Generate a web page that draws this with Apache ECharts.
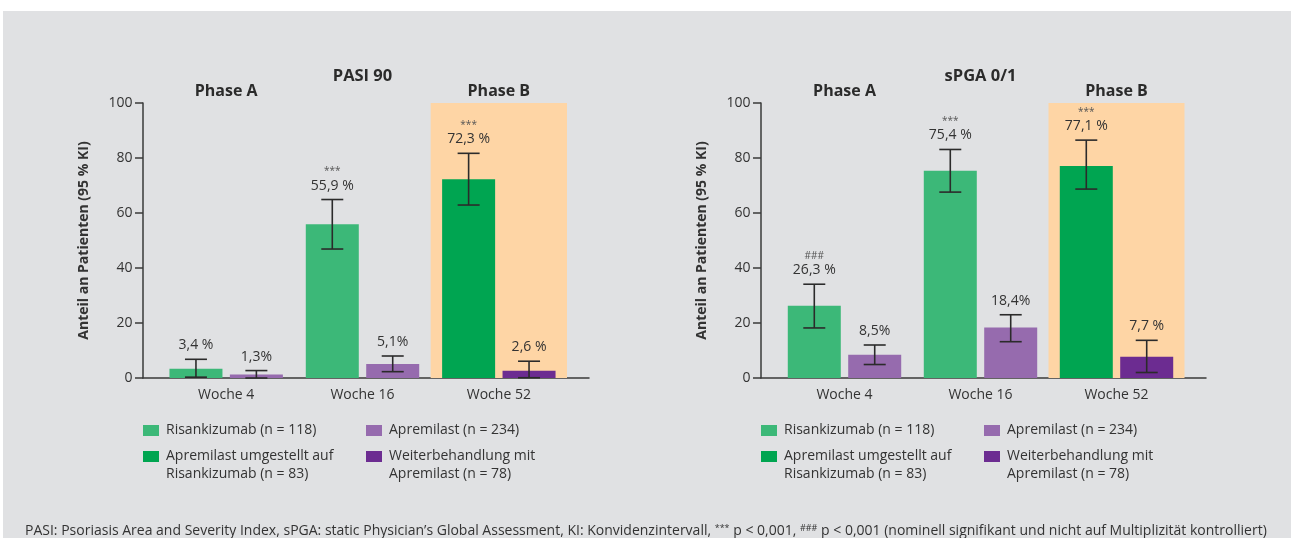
<!DOCTYPE html>
<html>
<head>
<meta charset="utf-8">
<script src="https://cdn.jsdelivr.net/npm/echarts@6.0.0/dist/echarts.min.js"></script>
<style>
  html, body { margin: 0; padding: 0; background: #ffffff; }
  #chart { width: 1291px; height: 538px; }
</style>
</head>
<body>
<div id="chart"></div>
<script>
// ---- Data ---------------------------------------------------------------
const weeks = ['Woche 4', 'Woche 16', 'Woche 52'];
const phaseLabels = ['Phase A', '', 'Phase B'];
const phaseBWeek = 2;                       // index of the Phase B period
const yAxisName = 'Anteil an Patienten (95 % KI)';
const panelTitles = ['PASI 90', 'sPGA 0/1'];

const legendNames = [
  'Risankizumab (n = 118)',
  'Apremilast (n = 234)',
  'Apremilast umgestellt auf\nRisankizumab (n = 83)',
  'Weiterbehandlung mit\nApremilast (n = 78)'
];

// PASI 90 response (%), with 95 % confidence limits [lower, upper]
const pasiRisankizumab = [3.4, 55.9, null];
const pasiApremilast = [1.3, 5.1, null];
const pasiSwitched = [null, null, 72.3];
const pasiContinued = [null, null, 2.6];
const pasiRisankizumabCI = [[0.3, 6.8], [46.9, 64.9], null];
const pasiApremilastCI = [[0.0, 2.7], [2.3, 8.0], null];
const pasiSwitchedCI = [null, null, [62.9, 81.7]];
const pasiContinuedCI = [null, null, [0.1, 6.1]];
const pasiRisankizumabSig = ['', '***', ''];
const pasiSwitchedSig = ['', '', '***'];

// sPGA 0/1 response (%), with 95 % confidence limits [lower, upper]
const spgaRisankizumab = [26.3, 75.4, null];
const spgaApremilast = [8.5, 18.4, null];
const spgaSwitched = [null, null, 77.1];
const spgaContinued = [null, null, 7.7];
const spgaRisankizumabCI = [[18.2, 34.1], [67.6, 83.1], null];
const spgaApremilastCI = [[4.9, 12.0], [13.2, 23.0], null];
const spgaSwitchedCI = [null, null, [68.7, 86.5]];
const spgaContinuedCI = [null, null, [2.0, 13.7]];
const spgaRisankizumabSig = ['###', '***', ''];
const spgaSwitchedSig = ['', '', '***'];

const footnote = 'PASI: Psoriasis Area and Severity Index, sPGA: static Physician\u2019s Global Assessment, KI: Konvidenzintervall, ';

// ---- Styling ------------------------------------------------------------
const FONT = "'Open Sans', 'Noto Sans', sans-serif";
const TEXT = '#333333';
const AXIS = '#3a3a3a';
const PANEL_BG = '#e0e1e3';
const BAND = '#fed5a5';
const COLORS = ['#3cb878', '#966bae', '#00a551', '#6c2c91'];
const BAR_W = 53;
const BAR_GAP = 0.14;
const SLOT_OFFSET = BAR_W * (1 + BAR_GAP) / 2;
const CAP = 11;
const TOP = 103, PLOT_H = 275;
const LEGEND_LH = 17.7;
const ICON_W = 16, ICON_H = 11;

const panels = [
  {
    title: panelTitles[0], frameLeft: 143, frameWidth: 446, barLeft: 158, barWidth: 409,
    values: [pasiRisankizumab, pasiApremilast, pasiSwitched, pasiContinued],
    cis: [pasiRisankizumabCI, pasiApremilastCI, pasiSwitchedCI, pasiContinuedCI],
    sigs: [pasiRisankizumabSig, null, pasiSwitchedSig, null]
  },
  {
    title: panelTitles[1], frameLeft: 761, frameWidth: 445, barLeft: 776.5, barWidth: 408,
    values: [spgaRisankizumab, spgaApremilast, spgaSwitched, spgaContinued],
    cis: [spgaRisankizumabCI, spgaApremilastCI, spgaSwitchedCI, spgaContinuedCI],
    sigs: [spgaRisankizumabSig, null, spgaSwitchedSig, null]
  }
];

// series order: 0 Risankizumab, 1 Apremilast, 2 switched, 3 continued
const slotOf = [-1, 1, -1, 1];
const stackOf = ['g', 'p', 'g', 'p'];
const unitSep = [' %', '%', ' %', ' %'];
const fmt = v => v.toFixed(1).replace('.', ',');

const grids = [], xAxes = [], yAxes = [], series = [], legends = [], graphics = [];

graphics.push({
  type: 'rect', z: -10, silent: true,
  shape: { x: 3, y: 11, width: 1288, height: 527 },
  style: { fill: PANEL_BG }
});

panels.forEach((p, idx) => {
  const frame = idx * 2, plot = idx * 2 + 1;
  grids.push({ left: p.frameLeft, width: p.frameWidth, top: TOP, height: PLOT_H });
  grids.push({ left: p.barLeft, width: p.barWidth, top: TOP, height: PLOT_H });

  xAxes.push({
    gridIndex: frame, type: 'value', min: 0, max: 1,
    axisLine: { show: true, lineStyle: { color: AXIS, width: 1.5 } },
    axisTick: { show: false }, axisLabel: { show: false }, splitLine: { show: false }
  });
  xAxes.push({
    gridIndex: plot, type: 'category', data: weeks,
    axisLine: { show: false }, axisTick: { show: false }, splitLine: { show: false },
    axisLabel: { color: TEXT, fontFamily: FONT, fontSize: 14, margin: 10 }
  });
  yAxes.push({
    gridIndex: frame, type: 'value', min: 0, max: 100, interval: 20,
    name: yAxisName, nameLocation: 'middle', nameGap: 52,
    nameTextStyle: { color: TEXT, fontFamily: FONT, fontSize: 14, fontWeight: 'bold' },
    axisLine: { show: true, lineStyle: { color: AXIS, width: 1.5 } },
    axisTick: { show: true, length: 8, lineStyle: { color: AXIS, width: 1.5 } },
    axisLabel: { color: TEXT, fontFamily: FONT, fontSize: 14, margin: 10.5 },
    splitLine: { show: false }
  });
  yAxes.push({ gridIndex: plot, type: 'value', min: 0, max: 100, show: false });

  // Phase B background band spanning the whole Woche 52 category
  series.push({
    type: 'custom', xAxisIndex: plot, yAxisIndex: plot, silent: true, z: 1,
    data: [[phaseBWeek, 100]],
    renderItem(params, api) {
      const t = api.coord([api.value(0), api.value(1)]);
      const b = api.coord([api.value(0), 0]);
      const w = api.size([1, 0])[0];
      return { type: 'rect', shape: { x: t[0] - w / 2, y: t[1], width: w, height: b[1] - t[1] }, style: { fill: BAND } };
    }
  });

  // Phase headings above their weeks
  series.push({
    type: 'custom', xAxisIndex: plot, yAxisIndex: plot, silent: true, z: 5,
    data: phaseLabels.map((l, i) => [i, 100]).filter((d, i) => phaseLabels[i]),
    renderItem(params, api) {
      const c = api.coord([api.value(0), api.value(1)]);
      const label = phaseLabels[api.value(0)];
      return {
        type: 'text', x: c[0], y: c[1] - 12,
        style: { text: label, align: 'center', verticalAlign: 'middle', fill: '#2b2b2b',
                 font: `bold 16px ${FONT}` }
      };
    }
  });

  // Bars
  p.values.forEach((vals, s) => {
    series.push({
      type: 'bar', name: legendNames[s], xAxisIndex: plot, yAxisIndex: plot,
      stack: stackOf[s] + idx, data: vals, barWidth: BAR_W, barGap: (BAR_GAP * 100) + '%',
      itemStyle: { color: COLORS[s] }, z: 3, silent: true
    });
  });

  // Confidence intervals with value labels
  const rows = [], meta = [];
  p.values.forEach((vals, s) => {
    vals.forEach((v, i) => {
      if (v == null) return;
      const ci = p.cis[s][i];
      rows.push([i, ci[0], ci[1], v]);
      meta.push({ slot: slotOf[s], sep: unitSep[s], sig: p.sigs[s] ? p.sigs[s][i] : '' });
    });
  });
  series.push({
    type: 'custom', xAxisIndex: plot, yAxisIndex: plot, silent: true, z: 6,
    encode: { x: 0, y: [1, 2] },
    data: rows,
    renderItem(params, api) {
      const m = meta[params.dataIndex];
      const x = api.value(0);
      const hi = api.coord([x, api.value(2)]);
      const lo = api.coord([x, api.value(1)]);
      const cx = hi[0] + m.slot * SLOT_OFFSET;
      const ls = { stroke: '#2b2b2b', lineWidth: 1.6 };
      const children = [
        { type: 'line', shape: { x1: cx, y1: hi[1], x2: cx, y2: lo[1] }, style: ls },
        { type: 'line', shape: { x1: cx - CAP, y1: hi[1], x2: cx + CAP, y2: hi[1] }, style: ls },
        { type: 'line', shape: { x1: cx - CAP, y1: lo[1], x2: cx + CAP, y2: lo[1] }, style: ls },
        { type: 'text', x: cx, y: hi[1] - 14,
          style: { text: fmt(api.value(3)) + m.sep, align: 'center', verticalAlign: 'middle',
                   fill: TEXT, font: `14px ${FONT}` } }
      ];
      if (m.sig) {
        children.push({ type: 'text', x: cx, y: hi[1] - 28,
          style: { text: m.sig, align: 'center', verticalAlign: 'middle', fill: '#555555',
                   font: `10px ${FONT}` } });
      }
      return { type: 'group', children };
    }
  });

  // Title
  graphics.push({
    type: 'text', x: p.barLeft + p.barWidth / 2, y: 76,
    style: { text: p.title, align: 'center', verticalAlign: 'middle', fill: '#2b2b2b',
             font: `bold 16.5px ${FONT}` }
  });

  // Legend: two columns, two rows; the first text line sits level with the swatch
  const cols = [p.frameLeft, p.frameLeft + 223];
  const spots = [[cols[0], 425, false], [cols[1], 425, false], [cols[0], 451, true], [cols[1], 451, true]];
  spots.forEach(([left, iconTop, twoLine], s) => {
    const lines = twoLine ? 3 : 1;
    const boxTop = iconTop - (lines * LEGEND_LH / 2 - ICON_H / 2);
    legends.push({
      data: [legendNames[s]], left, top: boxTop, padding: 0, itemGap: 0,
      itemWidth: ICON_W, itemHeight: ICON_H, icon: 'rect', selectedMode: false,
      formatter: name => (twoLine ? '\n' : '') + name,
      textStyle: {
        color: TEXT, fontFamily: FONT, fontSize: 14, lineHeight: LEGEND_LH,
        padding: [0, 0, 0, 2]
      }
    });
  });
});

// Footnote
graphics.push({
  type: 'text', x: 25, y: 531,
  style: {
    text: footnote + '{s|***} p < 0,001, {s|###} p < 0,001 (nominell signifikant und nicht auf Multiplizit\u00e4t kontrolliert)',
    verticalAlign: 'middle', fill: TEXT, font: `14px ${FONT}`,
    rich: { s: { fontSize: 9, fontFamily: FONT, verticalAlign: 'top', fill: TEXT } }
  }
});

const chart = echarts.init(document.getElementById('chart'), null, { renderer: 'canvas' });
chart.setOption({
  backgroundColor: '#ffffff',
  animation: false,
  textStyle: { fontFamily: FONT },
  grid: grids, xAxis: xAxes, yAxis: yAxes,
  legend: legends,
  series,
  graphic: { elements: graphics }
});
</script>
</body>
</html>
